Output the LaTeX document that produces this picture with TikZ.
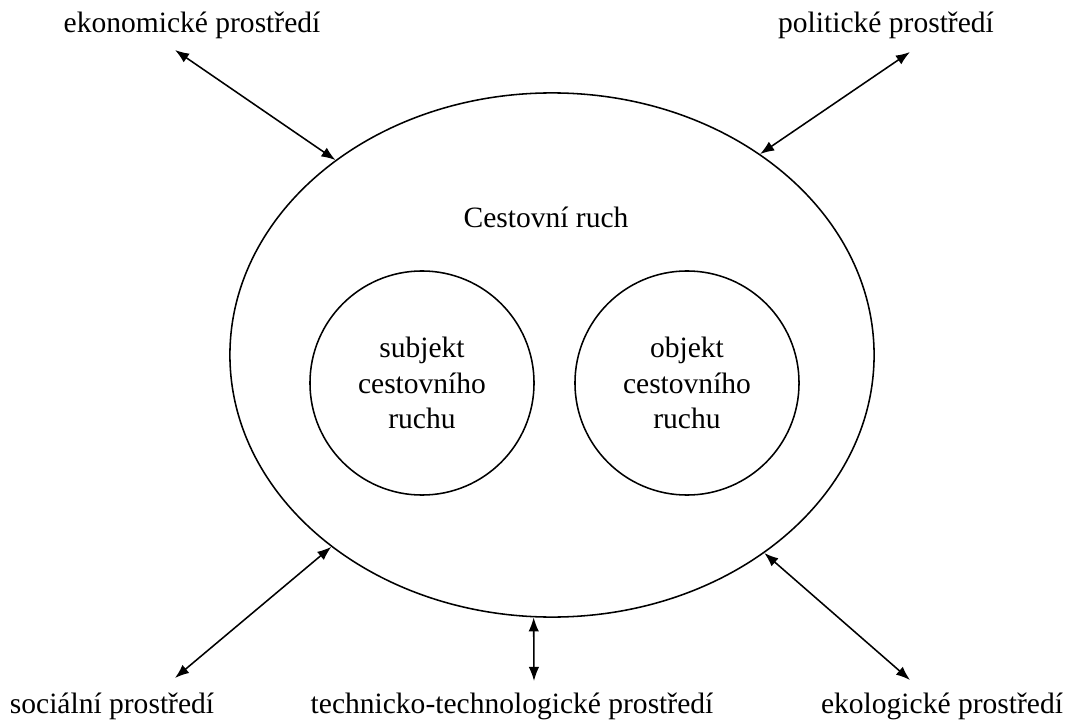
\documentclass[tikz,border=0pt]{standalone}
\usepackage{fontspec}
\setmainfont{Liberation Serif}
\usetikzlibrary{shapes.geometric,arrows.meta}

\begin{document}
\begin{tikzpicture}[x = 0.025cm, y = -0.025cm, line width = 1.1pt,
  >={Latex[length = 10pt, width = 7.5pt]},
  every node/.style = {font = \fontsize{21}{25}\selectfont},
  ring/.style = {circle, draw, minimum size = 5.6cm, inner sep = 0pt, align = center}]
  \useasboundingbox (0,0) rectangle (1072,722);

  % Cestovni ruch
  \node [ellipse, draw, minimum width = 16.1cm, minimum height = 13.1cm,
  inner sep = 0pt] (ruch) at (552,355) {};
  \node (ruchT) at (546,217) {Cestovní ruch};
  \node [ring] (subj) at (422,383) {subjekt\\cestovního\\ruchu};
  \node [ring] (obj) at (687,383) {objekt\\cestovního\\ruchu};

  % okoli
  \node (eko) at (192,25) {ekonomické prostředí};
  \node (pol) at (886,25) {politické prostředí};
  \node (soc) at (112,706) {sociální prostředí};
  \node (tech) at (512,706) {technicko-technologické prostředí};
  \node (ekol) at (942,706) {ekologické prostředí};

  \coordinate (ekoE) at (175,50);
  \coordinate (polE) at (910,52);
  \coordinate (socE) at (175,678);
  \coordinate (techE) at (534,681);
  \coordinate (ekolE) at (910,680);

  \draw [<->] (ekoE) -- (ruch.138);
  \draw [<->] (polE) -- (ruch.44);
  \draw [<->] (socE) -- (ruch.221);
  \draw [<->] (techE) -- (ruch.266);
  \draw [<->] (ekolE) -- (ruch.317.6);
\end{tikzpicture}
\end{document}
